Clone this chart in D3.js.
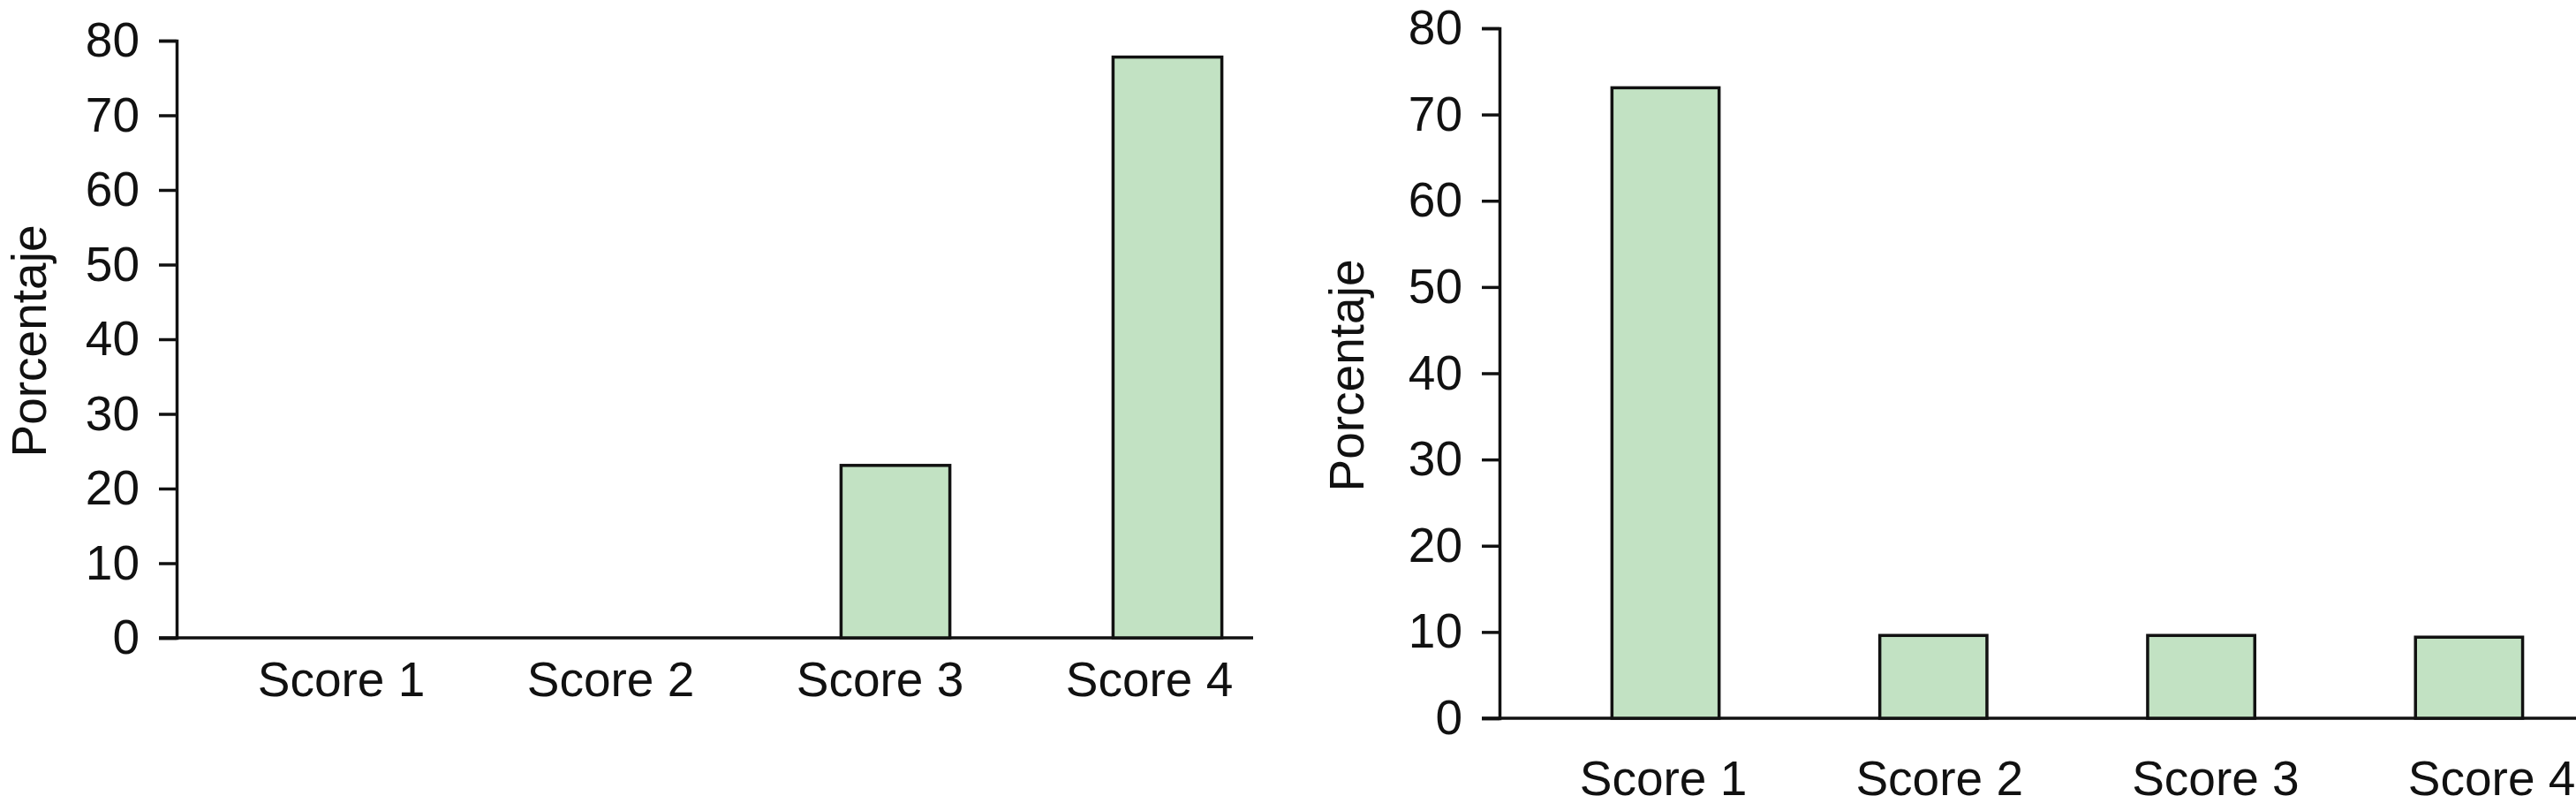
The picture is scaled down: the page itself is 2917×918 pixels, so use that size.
<!DOCTYPE html>
<meta charset="utf-8">
<style>
body { margin: 0; background: #fff; }
svg { display: block; font-family: "Liberation Sans", Arial, sans-serif; }
.axis text { font-size: 55px; fill: #111; }
.axis path, .axis line { stroke: #111; stroke-width: 3.5px; }
.bar { fill: #c2e2c3; stroke: #111; stroke-width: 3.5px; }
.title { font-size: 55px; fill: #111; }
</style>
<svg width="2917" height="918"></svg>
<script src="https://cdn.jsdelivr.net/npm/d3@7"></script>
<script>
// data
var categories = ["Score 1", "Score 2", "Score 3", "Score 4"];
var leftValues = [0, 0, 23.1, 77.8];
var rightValues = [73.1, 9.6, 9.6, 9.4];
var yTicks = [0, 10, 20, 30, 40, 50, 60, 70, 80];
var yTitle = "Porcentaje";

var svg = d3.select("svg");

// one panel = one bar chart, placed by hand to sit like the original
function drawPanel(values, p) {
  var g = svg.append("g");

  var y = d3.scaleLinear().domain([0, 80]).range([p.y0, p.y80]);
  var x = d3.scaleBand().domain(categories)
    .range([p.firstCenter - p.step / 2, p.firstCenter - p.step / 2 + p.step * categories.length])
    .paddingInner(0.6).paddingOuter(0.3);
  // the category labels in the original don't sit exactly under the bars
  var xLab = d3.scalePoint().domain(categories)
    .range([p.firstLabel, p.firstLabel + p.labelStep * (categories.length - 1)]);

  // y axis
  g.append("g")
    .attr("class", "axis")
    .attr("transform", "translate(" + p.axisX + ",0)")
    .call(d3.axisLeft(y).tickValues(yTicks).tickSize(20).tickSizeOuter(20).tickPadding(22));

  // x axis: labels only, the base line is drawn below
  var xa = g.append("g")
    .attr("class", "axis")
    .attr("transform", "translate(0," + p.y0 + ")")
    .call(d3.axisBottom(xLab).tickSize(0).tickPadding(p.labelPad));
  xa.select(".domain").remove();

  g.append("line")
    .attr("x1", p.axisX - 20).attr("x2", p.xEnd)
    .attr("y1", p.y0).attr("y2", p.y0)
    .attr("stroke", "#111").attr("stroke-width", 3.5);

  g.selectAll(".bar")
    .data(values)
    .enter().append("rect")
      .attr("class", "bar")
      .attr("x", function(d, i) { return x(categories[i]); })
      .attr("width", x.bandwidth())
      .attr("y", function(d) { return y(d); })
      .attr("height", function(d) { return y(0) - y(d); });

  g.append("text")
    .attr("class", "title")
    .attr("transform", "translate(" + p.titleX + "," + p.titleY + ") rotate(-90)")
    .attr("text-anchor", "middle")
    .text(yTitle);
}

drawPanel(leftValues, {
  axisX: 200, y0: 722, y80: 46,
  firstCenter: 398, step: 308,
  firstLabel: 386, labelStep: 305,
  xEnd: 1419, labelPad: 27,
  titleX: 52, titleY: 386
});

drawPanel(rightValues, {
  axisX: 1698, y0: 813, y80: 32,
  firstCenter: 1886, step: 303.3,
  firstLabel: 1883, labelStep: 312.7,
  xEnd: 2917, labelPad: 48,
  titleX: 1544, titleY: 425
});
</script>
